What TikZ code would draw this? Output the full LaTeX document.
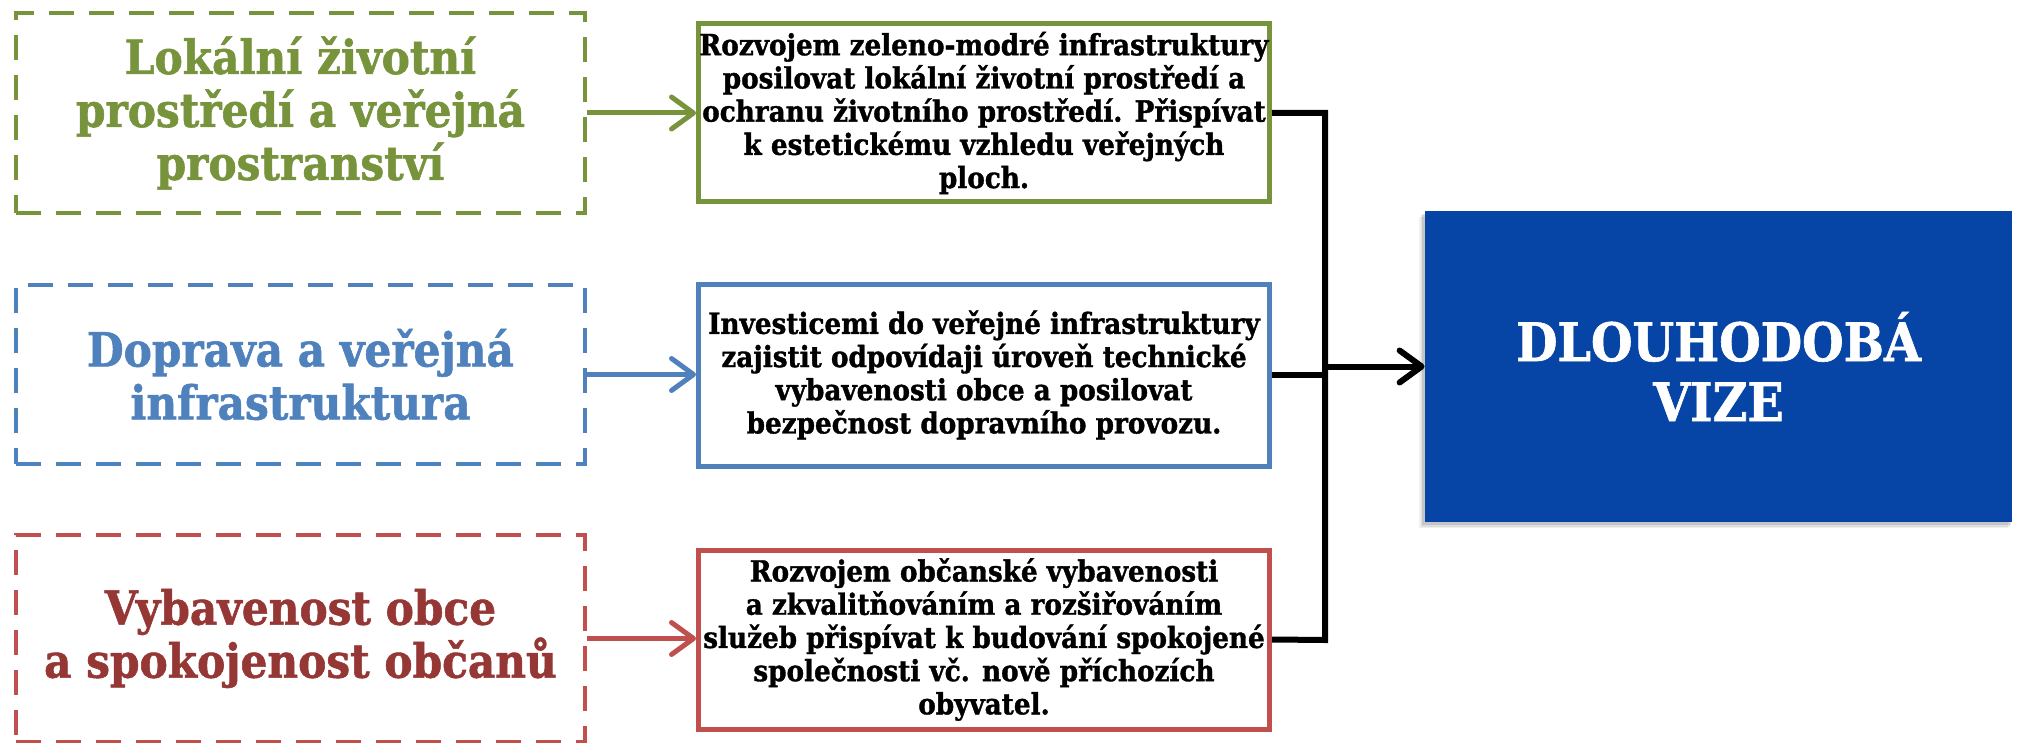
\documentclass[tikz,border=0pt]{standalone}
\usepackage{fontspec}
\setmainfont{DejaVu Serif Condensed}[BoldFeatures={FakeBold=1.2}]
\usetikzlibrary{arrows.meta}
\definecolor{cgreen}{RGB}{119,147,60}
\definecolor{cblue}{RGB}{79,129,189}
\definecolor{cred}{RGB}{192,80,77}
\definecolor{credtext}{RGB}{149,55,53}
\definecolor{cnavy}{RGB}{6,69,165}
\begin{document}
\begin{tikzpicture}[x=0.5pt,y=-0.5pt,line join=miter,
  dashbox/.style={draw,line width=2.4pt,dash pattern=on 12.5pt off 7.5pt,minimum width=284.5pt,align=center,inner sep=0pt,font=\bfseries\fontsize{23.5}{26.5}\selectfont},
  solidbox/.style={draw,line width=2.5pt,fill=white,minimum width=285.5pt,align=center,inner sep=0pt,font=\bfseries\fontsize{14.6}{16.6}\selectfont},
  colarrow/.style={line width=2.5pt,-{Straight Barb[length=11pt,width=16pt,line cap=round,line join=round]}},
  blackline/.style={line width=3pt},
]
\useasboundingbox (0,0) rectangle (2022,743);
% left dashed boxes
\node[dashbox,cgreen,minimum height=100pt] (d1) at (300.5,113) {Lokální životní\\prostředí a veřejná\\prostranství};
\node[dashbox,cblue,minimum height=89.5pt] (d2) at (300.5,374.5) {Doprava a veřejná\\infrastruktura};
\node[dashbox,cred,minimum height=103.5pt,text=credtext] (d3) at (300.5,638.5) {Vybavenost obce\\a spokojenost občanů};
% middle solid boxes
\node[solidbox,draw=cgreen,minimum height=89pt] (s1) at (984,113) {Rozvojem zeleno-modré infrastruktury\\posilovat lokální životní prostředí a\\ochranu životního prostředí. Přispívat\\k estetickému vzhledu veřejných\\ploch.};
\node[solidbox,draw=cblue,minimum height=91pt] (s2) at (984,375) {Investicemi do veřejné infrastruktury\\zajistit odpovídaji úroveň technické\\vybavenosti obce a posilovat\\bezpečnost dopravního provozu.};
\node[solidbox,draw=cred,minimum height=89.5pt] (s3) at (984,639.5) {Rozvojem občanské vybavenosti\\a zkvalitňováním a rozšiřováním\\služeb přispívat k budování spokojené\\společnosti vč. nově příchozích\\obyvatel.};
% big box with shadow
\foreach \o/\a in {6/0.06,4.5/0.08,3/0.1}{
  \fill[black,opacity=\a] (1425-\o,211+\o) rectangle (2012-\o+2,522+\o);
}
\node[fill=cnavy,minimum width=293.5pt,minimum height=155.5pt,inner sep=0pt,align=center,text=white,font=\bfseries\fontsize{26.5}{30}\selectfont] (big) at (1718.5,366.5) {DLOUHODOBÁ\\VIZE};
% arrows left -> middle
\draw[colarrow,cgreen] (d1.east) -- (d1.east -| s1.west);
\draw[colarrow,cblue] (d2.east) -- (d2.east -| s2.west);
\draw[colarrow,cred] (d3.east) -- (d3.east -| s3.west);
% black connectors
\coordinate (jt) at (1325,113);
\coordinate (jb) at (1325,640);
\draw[blackline] (s1.east) -- (jt) -- (jb) -- (s3.east);
\draw[blackline] (s2.east) -- (s2.east -| jt);
\draw[blackline,-{Straight Barb[length=11pt,width=16pt,line cap=round,line join=round]}] (jt |- big.west) -- (big.west);
\end{tikzpicture}
\end{document}
